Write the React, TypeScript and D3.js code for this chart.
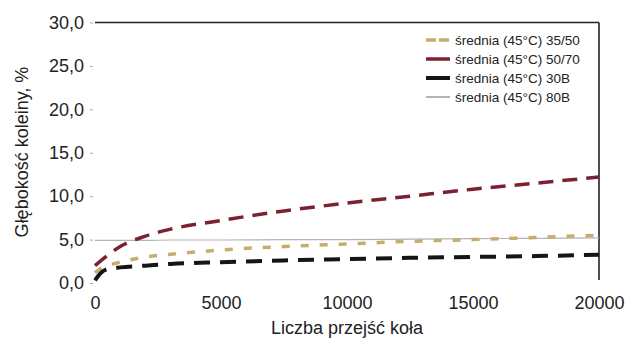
import React, { useEffect, useRef } from 'react';
import * as d3 from 'd3';

// Number of wheel passes (x) shared by all series
const PASSES = [0, 250, 500, 1000, 2000, 3000, 5000, 7500, 10000, 12500, 15000, 17500, 20000];

// Rut depth, %
const RUT_35_50 = [1.2, 1.7, 2.0, 2.4, 3.0, 3.3, 3.8, 4.2, 4.5, 4.8, 5.0, 5.25, 5.5];
const RUT_50_70 = [2.0, 2.6, 3.2, 4.2, 5.4, 6.2, 7.2, 8.3, 9.2, 10.0, 10.8, 11.5, 12.2];
const RUT_30B = [0.3, 1.2, 1.6, 1.8, 2.0, 2.2, 2.4, 2.6, 2.75, 2.9, 3.0, 3.1, 3.25];
const RUT_80B = [4.9, 4.9, 4.9, 4.9, 4.9, 4.95, 4.95, 5.0, 5.0, 5.05, 5.1, 5.15, 5.2];

const SERIES_LABELS = [
  'średnia (45°C) 35/50',
  'średnia (45°C) 50/70',
  'średnia (45°C) 30B',
  'średnia (45°C) 80B'
];

const Y_TICKS = [0, 5, 10, 15, 20, 25, 30];
const X_TICKS = [0, 5000, 10000, 15000, 20000];

const STYLES = [
  { color: '#c4ae6c', width: 3.5, dash: '8,11' },
  { color: '#7a2232', width: 3.5, dash: '15,9' },
  { color: '#151515', width: 4, dash: '16,10' },
  { color: '#b4b4b4', width: 1.2, dash: null }
];

const App = () => {
  const ref = useRef<SVGSVGElement>(null);

  useEffect(() => {
    const svg = d3.select(ref.current);
    svg.selectAll('*').remove();

    const left = 95, right = 599, top = 22.5, bottom = 283;
    const font = 'Liberation Sans, Arial, sans-serif';

    const x = d3.scaleLinear().domain([0, 20000]).range([left, right]);
    const y = d3.scaleLinear().domain([0, 30]).range([bottom, top]);

    // frame: top and right border only (left/bottom faded in the scan)
    svg.append('line')
      .attr('x1', left).attr('x2', right)
      .attr('y1', top).attr('y2', top)
      .attr('stroke', '#222').attr('stroke-width', 1.6);
    svg.append('line')
      .attr('x1', right).attr('x2', right)
      .attr('y1', top).attr('y2', 280)
      .attr('stroke', '#222').attr('stroke-width', 1.6);

    // Y axis
    const yAxis = svg.append('g')
      .attr('transform', `translate(${left - 2},0)`)
      .call(d3.axisLeft(y).tickValues(Y_TICKS).tickSize(3).tickPadding(6)
        .tickFormat(d => d3.format('.1f')(d as number).replace('.', ',')));
    yAxis.select('.domain').remove();
    yAxis.selectAll('line').attr('stroke', '#aaa');
    yAxis.selectAll('text')
      .attr('font-family', font).attr('font-size', 18).attr('fill', '#222');

    // X axis
    const xAxis = svg.append('g')
      .attr('transform', `translate(0,${bottom})`)
      .call(d3.axisBottom(x).tickValues(X_TICKS).tickSize(0).tickPadding(13)
        .tickFormat(d3.format('d')));
    xAxis.select('.domain').remove();
    xAxis.selectAll('text')
      .attr('font-family', font).attr('font-size', 18).attr('fill', '#222');

    // Axis titles
    svg.append('text')
      .attr('x', (left + right) / 2).attr('y', 334)
      .attr('text-anchor', 'middle')
      .attr('font-family', font).attr('font-size', 18).attr('fill', '#222')
      .text('Liczba przejść koła');
    svg.append('text')
      .attr('transform', `translate(28,152) rotate(-90)`)
      .attr('text-anchor', 'middle')
      .attr('font-family', font).attr('font-size', 18).attr('fill', '#222')
      .text('Głębokość koleiny, %');

    const line = d3.line<[number, number]>()
      .x(d => x(d[0])).y(d => y(d[1]))
      .curve(d3.curveMonotoneX);

    const allSeries = [RUT_35_50, RUT_50_70, RUT_30B, RUT_80B];
    // draw 80B first so it sits underneath
    [3, 0, 1, 2].forEach(i => {
      const pts = PASSES.map((p, j) => [p, allSeries[i][j]] as [number, number]);
      svg.append('path')
        .attr('d', line(pts))
        .attr('fill', 'none')
        .attr('stroke', STYLES[i].color)
        .attr('stroke-width', STYLES[i].width)
        .attr('stroke-dasharray', STYLES[i].dash)
        .attr('stroke-linecap', 'butt');
    });

    // Legend
    const legend = svg.append('g');
    SERIES_LABELS.forEach((label, i) => {
      const ly = 40 + i * 19;
      legend.append('line')
        .attr('x1', 426).attr('x2', 450)
        .attr('y1', ly).attr('y2', ly)
        .attr('stroke', STYLES[i].color)
        .attr('stroke-width', i === 3 ? 2 : STYLES[i].width)
        .attr('stroke-dasharray', i === 0 ? '10,3' : null);
      legend.append('text')
        .attr('x', 455).attr('y', ly)
        .attr('dy', '0.35em')
        .attr('font-family', font).attr('font-size', 13.5).attr('fill', '#222')
        .text(label);
    });
  }, []);

  return (
    <svg ref={ref} width={626} height={338}
      style={{ position: 'absolute', left: 0, top: 0, background: '#fff' }} />
  );
};

export default App;
